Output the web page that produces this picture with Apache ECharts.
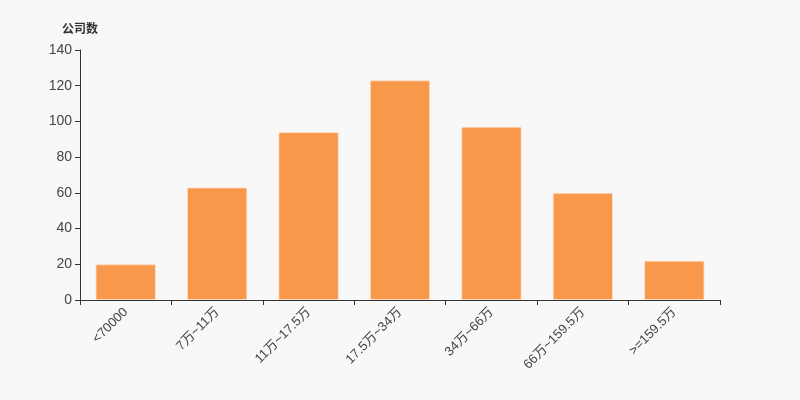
<!DOCTYPE html>
<html><head><meta charset="utf-8">
<script src="https://cdn.jsdelivr.net/npm/echarts@6/dist/echarts.min.js"></script>
<style>html,body{margin:0;padding:0;background:#f8f8f8;}#c{width:800px;height:400px;}</style>
</head><body><div id="c"></div>
<script>
var categories = ['<70000', '7万~11万', '11万~17.5万', '17.5万~34万', '34万~66万', '66万~159.5万', '>=159.5万'];
var companyCounts = [20, 63, 94, 123, 97, 60, 22];
var yTicks = {min: 0, max: 140, interval: 20};

var chart = echarts.init(document.getElementById('c'));
chart.setOption({
  backgroundColor: '#f8f8f8',
  animation: false,
  grid: {left: 80, right: 80, top: 50, bottom: 100},
  xAxis: {
    type: 'category',
    data: categories,
    axisLine: {lineStyle: {color: '#333'}},
    axisTick: {show: true, alignWithLabel: false, lineStyle: {color: '#333'}},
    axisLabel: {rotate: 45, color: '#444', fontSize: 13, fontFamily: 'Liberation Sans, Noto Sans CJK SC', margin: 10}
  },
  yAxis: {
    type: 'value',
    name: '公司数',
    nameTextStyle: {color: '#333', fontWeight: 'bold', fontSize: 12, fontFamily: 'Noto Sans CJK SC', padding: [0, 0, 2, 0]},
    nameGap: 14,
    min: yTicks.min, max: yTicks.max, interval: yTicks.interval,
    axisLine: {show: true, lineStyle: {color: '#333'}},
    axisTick: {show: true, lineStyle: {color: '#333'}},
    splitLine: {show: false},
    axisLabel: {color: '#444', fontSize: 14, fontFamily: 'Liberation Sans'}
  },
  series: [{
    type: 'bar',
    data: companyCounts,
    barWidth: '66%',
    itemStyle: {color: '#f7984a', borderColor: 'rgba(255,220,200,0.8)', borderWidth: 1}
  }]
});
</script></body></html>
